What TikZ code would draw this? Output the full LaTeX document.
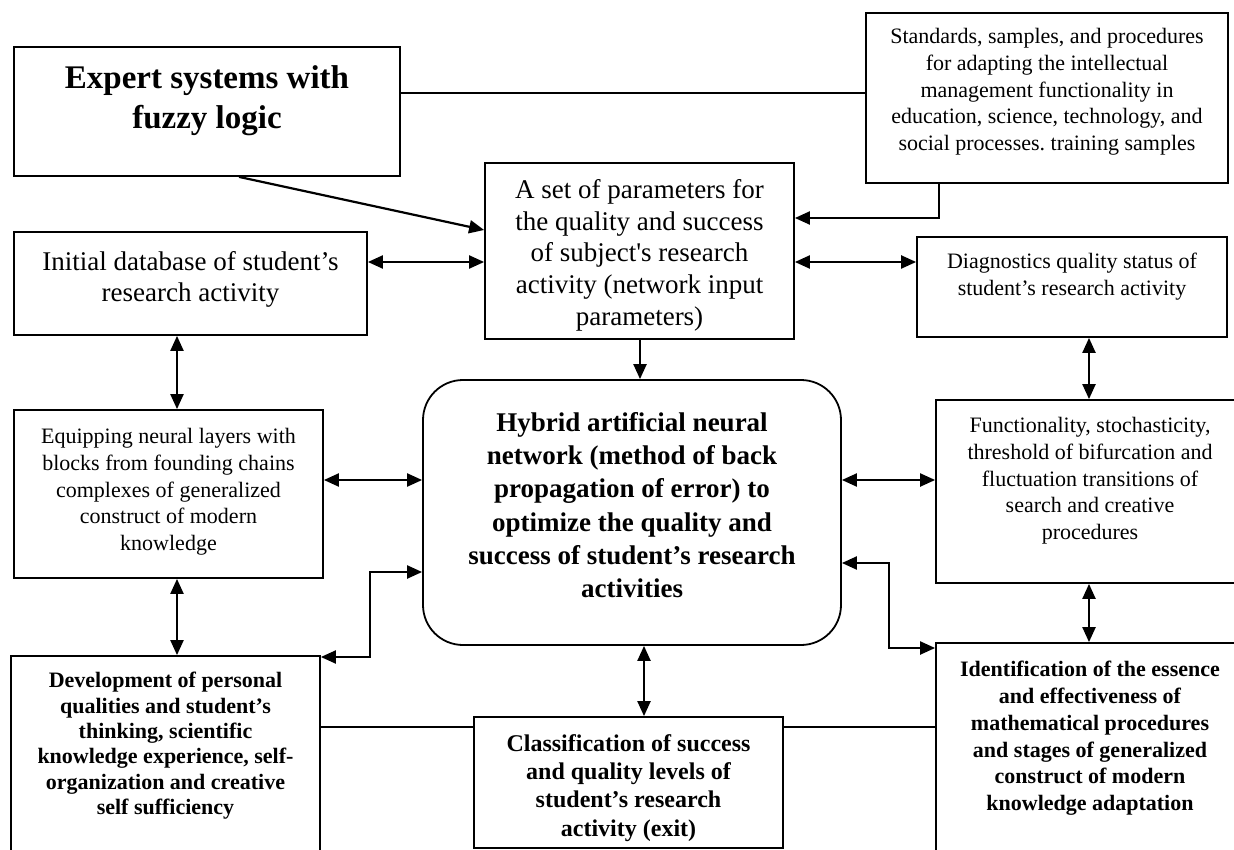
\documentclass[tikz,border=0pt]{standalone}
\usepackage{fontspec}
\setmainfont{Liberation Serif}[Ligatures=TeXOff]
\usetikzlibrary{arrows.meta}
\frenchspacing
\begin{document}
\begin{tikzpicture}[x=1pt,y=-1pt,
  box/.style={draw, line width=1.8pt, inner sep=0pt},
  txtS/.style={align=center, inner sep=0pt, anchor=north, font=\fontsize{22}{26.8}\selectfont},
  txtSB/.style={align=center, inner sep=0pt, anchor=north, font=\fontsize{22}{26.8}\selectfont\bfseries},
  txtM/.style={align=center, inner sep=0pt, anchor=north, font=\fontsize{27}{31.6}\selectfont},
  txtMB/.style={align=center, inner sep=0pt, anchor=north, font=\fontsize{27}{33.3}\selectfont\bfseries},
  plainline/.style={line width=1.8pt},
  onearrow/.style={line width=2.2pt, -{Triangle[length=15pt,width=13pt]}},
  twoarrow/.style={line width=2.2pt, {Triangle[length=15pt,width=13pt]}-{Triangle[length=15pt,width=13pt]}}
]
\useasboundingbox (0,0) rectangle (1234,850);
\fill[white] (0,0) rectangle (1234,850);

% boxes
\node[box, minimum width=386pt, minimum height=129pt] (expert) at (207,111.5) {};
\node[box, minimum width=362pt, minimum height=170pt] (std) at (1047,98) {};
\node[box, minimum width=309pt, minimum height=176pt] (params) at (639.5,251) {};
\node[box, minimum width=353pt, minimum height=103pt] (initial) at (190.5,283.5) {};
\node[box, minimum width=310pt, minimum height=100pt] (diag) at (1072,287) {};
\node[box, minimum width=309pt, minimum height=168pt] (equip) at (168.5,494) {};
\node[box, rounded corners=40pt, minimum width=418pt, minimum height=265pt] (hybrid) at (632,512.5) {};
\node[box, minimum width=308pt, minimum height=183pt] (func) at (1090,491.5) {};
\node[box, minimum width=309pt, minimum height=224pt] (dev) at (165.5,768) {};
\node[box, minimum width=309pt, minimum height=131pt] (classif) at (628.5,782.5) {};
\node[box, minimum width=308pt, minimum height=237pt] (ident) at (1090,761.5) {};

% texts
\node[align=center, inner sep=0pt, anchor=north, font=\fontsize{33}{40}\selectfont\bfseries] (texpert) at (207,65) {Expert systems with\\fuzzy logic};
\node[txtS] (tstd) at (1047,28) {Standards, samples, and procedures\\for adapting the intellectual\\management functionality in\\education, science, technology, and\\social processes. training samples};
\node[txtM] (tparams) at (639.5,179.5) {A set of parameters for\\the quality and success\\of subject's research\\activity (network input\\parameters)};
\node[txtM] (tinitial) at (190.5,251) {Initial database of student’s\\research activity};
\node[txtS] (tdiag) at (1072,253) {Diagnostics quality status of\\student’s research activity};
\node[txtS] (tequip) at (168.5,428) {Equipping neural layers with\\blocks from founding chains\\complexes of generalized\\construct of modern\\knowledge};
\node[txtMB] (thybrid) at (632,412) {Hybrid artificial neural\\network (method of back\\propagation of error) to\\optimize the quality and\\success of student’s research\\activities};
\node[txtS] (tfunc) at (1090,417) {Functionality, stochasticity,\\threshold of bifurcation and\\fluctuation transitions of\\search and creative\\procedures};
\node[align=center, inner sep=0pt, anchor=north, font=\fontsize{22}{25.4}\selectfont\bfseries] (tdev) at (165.5,672) {Development of personal\\qualities and student’s\\thinking, scientific\\knowledge experience, self-\\organization and creative\\self sufficiency};
\node[align=center, inner sep=0pt, anchor=north, font=\fontsize{24}{28.3}\selectfont\bfseries] (tclassif) at (628.5,734) {Classification of success\\and quality levels of\\student’s research\\activity (exit)};
\node[txtSB] (tident) at (1090,661) {Identification of the essence\\and effectiveness of\\mathematical procedures\\and stages of generalized\\construct of modern\\knowledge adaptation};

% helper levels
\coordinate (ky93) at (0,93);
\coordinate (ky218) at (0,218);
\coordinate (ky230) at (0,230);
\coordinate (ky262) at (0,262);
\coordinate (ky480) at (0,480);
\coordinate (ky563) at (0,563);
\coordinate (ky572) at (0,572);
\coordinate (ky648) at (0,648);
\coordinate (ky657) at (0,657);
\coordinate (ky727) at (0,727);
\coordinate (kx177) at (177,0);
\coordinate (kx239) at (239,0);
\coordinate (kx370) at (370,0);
\coordinate (kx640) at (640,0);
\coordinate (kx644) at (644,0);
\coordinate (kx889) at (889,0);
\coordinate (kx939) at (939,0);
\coordinate (kx1089) at (1089,0);

% connectors
\draw[plainline] (expert.east |- ky93) -- (std.west |- ky93);
\draw[onearrow] (expert.south -| kx239) -- (params.west |- ky230);
\draw[onearrow] (std.south -| kx939) -- (kx939 |- ky218) -- (params.east |- ky218);
\draw[twoarrow] (initial.east |- ky262) -- (params.west |- ky262);
\draw[twoarrow] (params.east |- ky262) -- (diag.west |- ky262);
\draw[onearrow] (params.south -| kx640) -- (hybrid.north -| kx640);
\draw[twoarrow] (initial.south -| kx177) -- (equip.north -| kx177);
\draw[twoarrow] (equip.south -| kx177) -- (dev.north -| kx177);
\draw[twoarrow] (equip.east |- ky480) -- (hybrid.west |- ky480);
\draw[twoarrow] (hybrid.east |- ky480) -- (func.west |- ky480);
\draw[twoarrow] (diag.south -| kx1089) -- (func.north -| kx1089);
\draw[twoarrow] (func.south -| kx1089) -- (ident.north -| kx1089);
\draw[twoarrow] (hybrid.west |- ky572) -- (kx370 |- ky572) -- (kx370 |- ky657) -- (dev.east |- ky657);
\draw[twoarrow] (hybrid.east |- ky563) -- (kx889 |- ky563) -- (kx889 |- ky648) -- (ident.west |- ky648);
\draw[twoarrow] (hybrid.south -| kx644) -- (classif.north -| kx644);
\draw[plainline] (dev.east |- ky727) -- (classif.west |- ky727);
\draw[plainline] (classif.east |- ky727) -- (ident.west |- ky727);
\end{tikzpicture}
\end{document}
